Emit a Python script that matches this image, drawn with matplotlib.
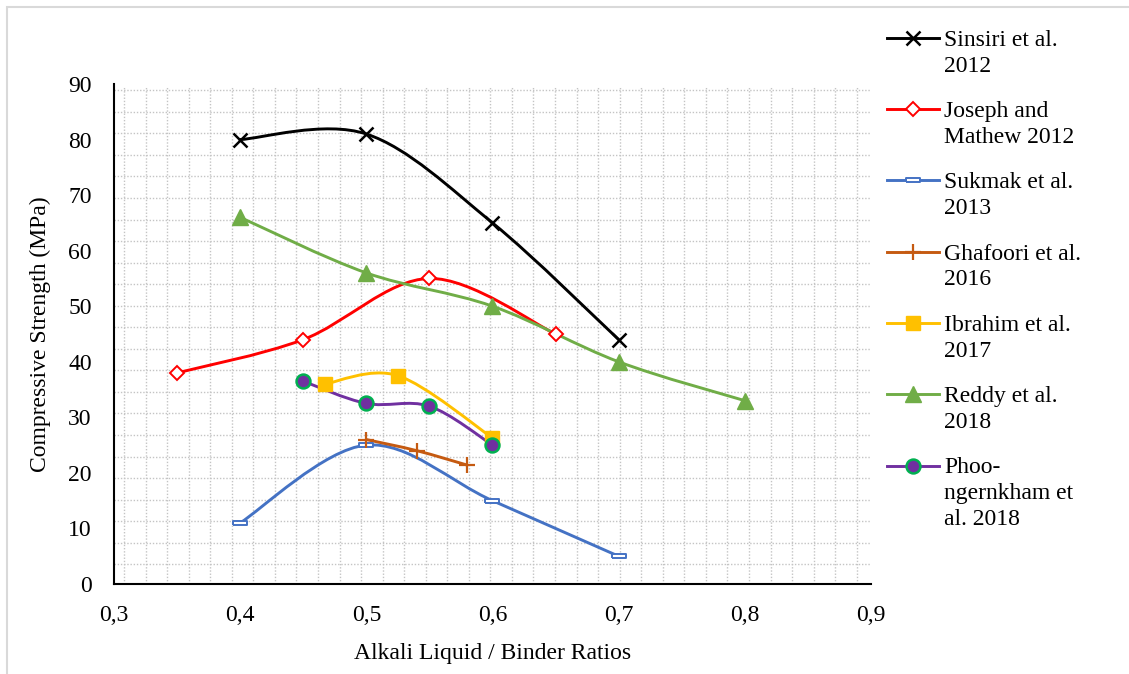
import numpy as np
import matplotlib
matplotlib.use('Agg')
import matplotlib.pyplot as plt
from matplotlib.path import Path
from matplotlib.patches import PathPatch, Rectangle
from matplotlib.lines import Line2D

# Dados
sinsiri_x = [0.4, 0.5, 0.6, 0.7]
sinsiri_y = [80, 81, 65, 44]

joseph_x = [0.35, 0.45, 0.55, 0.65]
joseph_y = [38, 44, 55, 45]

sukmak_x = [0.4, 0.5, 0.6, 0.7]
sukmak_y = [11, 25, 15, 5]

ghafoori_x = [0.5, 0.54, 0.58]
ghafoori_y = [26, 24, 21.4]

ibrahim_x = [0.467, 0.525, 0.6]
ibrahim_y = [36, 37.5, 26.3]

reddy_x = [0.4, 0.5, 0.6, 0.7, 0.8]
reddy_y = [66, 56, 50, 40, 33]

phoo_x = [0.45, 0.5, 0.55, 0.6]
phoo_y = [36.5, 32.5, 32, 25]

nomes = ['Sinsiri et al.\n2012', 'Joseph and\nMathew 2012', 'Sukmak et al.\n2013',
         'Ghafoori et al.\n2016', 'Ibrahim et al.\n2017', 'Reddy et al.\n2018',
         'Phoo-\nngernkham et\nal. 2018']

x_ticks = [0.3, 0.4, 0.5, 0.6, 0.7, 0.8, 0.9]
x_ticklabels = ['0,3', '0,4', '0,5', '0,6', '0,7', '0,8', '0,9']
y_ticks = [0, 10, 20, 30, 40, 50, 60, 70, 80, 90]

plt.rcParams['font.family'] = ['Liberation Serif', 'DejaVu Serif']
fs = 17

# Estilos de cada serie
ret = [(-1, -0.35), (1, -0.35), (1, 0.35), (-1, 0.35), (-1, -0.35)]
estilos = [
    dict(color='black', marker='x', ms=10, mfc='black', mec='black', mew=1.8),
    dict(color='#FF0000', marker='D', ms=7.5, mfc='white', mec='#FF0000', mew=1.4),
    dict(color='#4472C4', marker=ret, ms=10, mfc='white', mec='#4472C4', mew=1.4),
    dict(color='#C55A11', marker='+', ms=11, mfc='#C55A11', mec='#C55A11', mew=1.6),
    dict(color='#FFC000', marker='s', ms=10, mfc='#FFC000', mec='#FFC000', mew=1),
    dict(color='#70AD47', marker='^', ms=11, mfc='#70AD47', mec='#70AD47', mew=1),
    dict(color='#7030A0', marker='o', ms=10, mfc='#7030A0', mec='#00B050', mew=1.8),
]

series = [(sinsiri_x, sinsiri_y), (joseph_x, joseph_y), (sukmak_x, sukmak_y),
          (ghafoori_x, ghafoori_y), (ibrahim_x, ibrahim_y), (reddy_x, reddy_y),
          (phoo_x, phoo_y)]


# Curva suavizada tipo Excel (Bezier cubica)
def curva_suave(x, y):
    p = np.column_stack([x, y]).astype(float)
    n = len(p)
    verts = [p[0]]
    codes = [Path.MOVETO]
    for i in range(n - 1):
        p0 = p[i - 1] if i > 0 else p[i]
        p3 = p[i + 2] if i + 2 < n else p[i + 1]
        c1 = p[i] + (p[i + 1] - p0) / 6
        c2 = p[i + 1] - (p3 - p[i]) / 6
        verts += [c1, c2, p[i + 1]]
        codes += [Path.CURVE4] * 3
    return Path(verts, codes)


W, H = 1129, 674
fig = plt.figure(figsize=(W / 100, H / 100), dpi=100)
ax = fig.add_axes([114 / W, 1 - 584 / H, 757 / W, 500 / H])

# Borda cinza da area do grafico
fig.add_artist(Rectangle((7 / W, -0.1), 1.2, 1 - 7 / H + 0.1, transform=fig.transFigure,
                         fill=False, edgecolor='#D9D9D9', lw=1.5))

# Padrao pontilhado de fundo
for k in range(36):
    xf = (10 + 21.55 * k) / 757
    if xf < 1:
        ax.plot([xf, xf], [0, 0.997], transform=ax.transAxes, color='#C4C4C4',
                lw=1.0, ls=(0, (1, 1.3)), zorder=0)
for k in range(24):
    yf = (19.7 + 21.55 * k) / 500
    if yf < 1:
        ax.plot([0, 1], [yf, yf], transform=ax.transAxes, color='#C4C4C4',
                lw=1.0, ls=(0, (1, 1.3)), zorder=0)

for (x, y), st in zip(series, estilos):
    ax.add_patch(PathPatch(curva_suave(x, y), fill=False, edgecolor=st['color'],
                           lw=2.1, zorder=2, capstyle='round'))
    ax.plot(x, y, ls='none', marker=st['marker'], ms=st['ms'], mfc=st['mfc'],
            mec=st['mec'], mew=st['mew'], zorder=3)

ax.set_xlim(0.3, 0.9)
ax.set_ylim(0, 90)
ax.set_xticks(x_ticks)
ax.set_xticklabels(x_ticklabels)
ax.set_yticks(y_ticks)
ax.tick_params(axis='both', length=0, labelsize=fs)
ax.tick_params(axis='y', pad=16)
ax.tick_params(axis='x', pad=15)
for s in ['top', 'right']:
    ax.spines[s].set_visible(False)
for s in ['left', 'bottom']:
    ax.spines[s].set_linewidth(1.5)
ax.set_xlabel('Alkali Liquid / Binder Ratios', fontsize=fs, labelpad=12)
ax.set_ylabel('Compressive Strength (MPa)', fontsize=fs, labelpad=12)

# Legenda manual (simbolo alinhado com a primeira linha)
for i, (nome, st) in enumerate(zip(nomes, estilos)):
    yc = 1 - (37.7 + 71.3 * i) / H
    fig.add_artist(Line2D([887 / W, 913 / W, 939 / W], [yc, yc, yc], transform=fig.transFigure,
                          color=st['color'], lw=2.1, marker=st['marker'], ms=st['ms'],
                          mfc=st['mfc'], mec=st['mec'], mew=st['mew'], markevery=[1]))
    fig.text(944 / W, yc + 8 / H, nome, fontsize=fs, va='top', ha='left', linespacing=1.3)

fig.savefig('out.png', dpi=100)
